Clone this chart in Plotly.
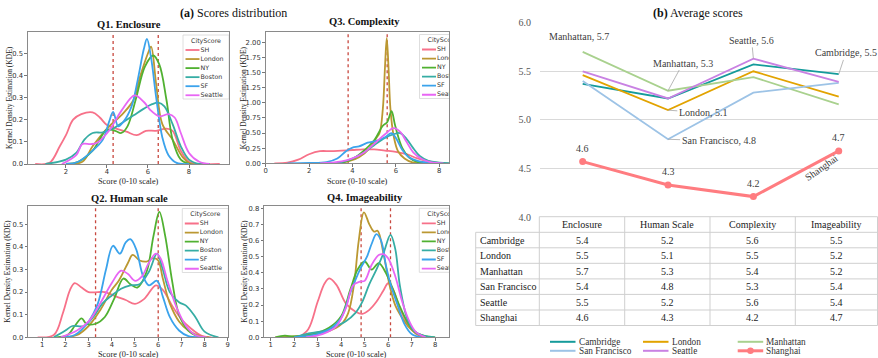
import plotly.graph_objects as go

W, H = 878, 358


def fx(p):
    return p / W


def fy(p):
    return 1 - p / H


# ---------------- KDE data ----------------
KDE_CITIES = ["SH", "London", "NY", "Boston", "SF", "Seattle"]
KDE_COLORS = ['#f77189', '#bb9832', '#50b131', '#36ada4', '#3ba3ec', '#e866f4']

# Q1 Enclosure
Q1_SH_X = [0.5, 1.2, 1.7, 2.0, 2.35, 2.75, 3.3, 3.65, 4.0, 4.45, 4.95, 5.45, 5.9, 6.4, 6.9, 7.2, 7.6, 8.0, 8.5, 9.5]
Q1_SH_Y = [0, 0.005, 0.08, 0.13, 0.2, 0.225, 0.233, 0.21, 0.176, 0.16, 0.146, 0.13, 0.15, 0.15, 0.16, 0.15, 0.06, 0.01, 0, 0]
Q1_LON_X = [2.0, 2.8, 3.3, 4.0, 4.8, 5.3, 5.6, 6.0, 6.15, 6.4, 6.7, 7.2, 7.7, 8.1, 9.0]
Q1_LON_Y = [0, 0.01, 0.08, 0.16, 0.23, 0.29, 0.39, 0.50, 0.53, 0.36, 0.18, 0.11, 0.03, 0, 0]
Q1_NY_X = [2.0, 2.6, 3.3, 4.0, 4.4, 4.7, 5.0, 5.4, 5.85, 6.25, 6.55, 6.9, 7.2, 7.6, 8.0, 9.0]
Q1_NY_Y = [0, 0.01, 0.06, 0.155, 0.15, 0.14, 0.17, 0.29, 0.44, 0.49, 0.45, 0.29, 0.11, 0.02, 0, 0]
Q1_BOS_X = [1.0, 2.0, 2.5, 2.9, 3.3, 3.8, 4.3, 4.8, 5.3, 5.8, 6.2, 6.5, 6.8, 7.2, 7.6, 8.0, 8.5, 9.0]
Q1_BOS_Y = [0, 0.02, 0.05, 0.11, 0.14, 0.143, 0.16, 0.19, 0.22, 0.25, 0.27, 0.277, 0.26, 0.18, 0.08, 0.02, 0, 0]
Q1_SF_X = [2.0, 2.6, 3.3, 3.8, 4.1, 4.3, 4.55, 4.8, 5.2, 5.5, 5.8, 5.95, 6.15, 6.4, 6.7, 7.0, 7.4, 8.0]
Q1_SF_Y = [0, 0.01, 0.06, 0.11, 0.19, 0.235, 0.17, 0.19, 0.26, 0.38, 0.52, 0.565, 0.48, 0.30, 0.12, 0.04, 0.005, 0]
Q1_SEA_X = [1.8, 2.5, 2.8, 3.2, 3.5, 4.1, 4.7, 5.35, 5.8, 6.1, 6.55, 7.0, 7.3, 7.6, 8.0, 8.5, 9.0]
Q1_SEA_Y = [0, 0.04, 0.09, 0.09, 0.095, 0.15, 0.24, 0.31, 0.28, 0.245, 0.215, 0.225, 0.21, 0.14, 0.05, 0.01, 0]
Q1_VLINES = [4.3, 6.5]

# Q3 Complexity
Q3_SH_X = [0.4, 1.0, 1.5, 2.0, 2.5, 3.0, 3.5, 4.0, 4.5, 5.0, 5.5, 6.0, 6.5, 7.0, 7.5, 8.0, 8.5]
Q3_SH_Y = [0, 0.01, 0.06, 0.15, 0.2, 0.2, 0.21, 0.22, 0.23, 0.23, 0.21, 0.19, 0.15, 0.08, 0.03, 0.005, 0]
Q3_LON_X = [3.0, 3.8, 4.3, 4.8, 5.1, 5.25, 5.4, 5.5, 5.58, 5.66, 5.75, 5.9, 6.1, 6.4, 6.8, 7.5]
Q3_LON_Y = [0, 0.03, 0.1, 0.25, 0.42, 0.5, 0.9, 1.6, 2.07, 1.6, 0.9, 0.45, 0.2, 0.08, 0.01, 0]
Q3_NY_X = [3.0, 3.6, 4.0, 4.5, 5.0, 5.4, 5.6, 5.8, 5.95, 6.1, 6.3, 6.6, 7.0, 7.5]
Q3_NY_Y = [0, 0.02, 0.07, 0.2, 0.38, 0.62, 0.68, 0.86, 0.65, 0.45, 0.25, 0.1, 0.02, 0]
Q3_BOS_X = [3.0, 3.5, 4.0, 4.5, 5.0, 5.5, 5.9, 6.2, 6.5, 6.8, 7.1, 7.5, 8.0, 8.5]
Q3_BOS_Y = [0, 0.02, 0.08, 0.17, 0.3, 0.42, 0.48, 0.5, 0.4, 0.25, 0.12, 0.04, 0.01, 0]
Q3_SF_X = [1.0, 2.0, 2.8, 3.3, 3.7, 4.0, 4.3, 4.7, 5.1, 5.5, 5.8, 6.0, 6.3, 6.6, 7.0, 7.5, 8.0]
Q3_SF_Y = [0, 0.005, 0.02, 0.08, 0.2, 0.26, 0.28, 0.34, 0.37, 0.43, 0.5, 0.42, 0.22, 0.1, 0.04, 0.01, 0]
Q3_SEA_X = [2.5, 3.0, 3.5, 4.0, 4.5, 5.0, 5.5, 5.9, 6.2, 6.5, 6.8, 7.2, 7.6, 8.2]
Q3_SEA_Y = [0, 0.01, 0.03, 0.08, 0.17, 0.32, 0.48, 0.58, 0.52, 0.35, 0.18, 0.07, 0.02, 0]
Q3_VLINES = [3.8, 5.6]

# Q2 Human scale
Q2_SH_X = [0.8, 1.5, 1.9, 2.2, 2.4, 2.7, 3.0, 3.4, 3.7, 4.2, 4.6, 5.0, 5.4, 5.9, 6.2, 6.6, 7.0, 7.4, 7.9, 8.3]
Q2_SH_Y = [0, 0.01, 0.11, 0.21, 0.24, 0.22, 0.2, 0.2, 0.2, 0.18, 0.165, 0.148, 0.17, 0.23, 0.21, 0.14, 0.08, 0.04, 0.005, 0]
Q2_LON_X = [2.0, 2.5, 3.0, 3.5, 4.0, 4.3, 4.7, 4.9, 5.2, 5.5, 5.8, 6.0, 6.2, 6.5, 6.9, 7.3, 7.8, 8.2]
Q2_LON_Y = [0, 0.01, 0.05, 0.12, 0.21, 0.25, 0.33, 0.365, 0.34, 0.335, 0.35, 0.34, 0.26, 0.15, 0.07, 0.03, 0.005, 0]
Q2_NY_X = [1.6, 2.1, 2.4, 2.7, 2.9, 3.3, 3.7, 4.1, 4.5, 4.8, 5.1, 5.5, 5.8, 6.05, 6.3, 6.6, 6.9, 7.3, 7.8]
Q2_NY_Y = [0, 0.01, 0.05, 0.084, 0.06, 0.06, 0.09, 0.17, 0.26, 0.235, 0.22, 0.29, 0.45, 0.555, 0.45, 0.25, 0.1, 0.03, 0]
Q2_BOS_X = [1.5, 2.0, 2.3, 2.8, 3.2, 3.6, 4.0, 4.4, 4.8, 5.2, 5.6, 5.95, 6.2, 6.5, 6.9, 7.2, 7.6, 8.0, 8.6]
Q2_BOS_Y = [0, 0.03, 0.05, 0.05, 0.09, 0.15, 0.185, 0.215, 0.23, 0.235, 0.29, 0.37, 0.3, 0.2, 0.155, 0.14, 0.09, 0.025, 0]
Q2_SF_X = [1.8, 2.4, 3.0, 3.4, 3.75, 4.05, 4.35, 4.6, 4.8, 5.05, 5.35, 5.6, 5.95, 6.2, 6.5, 6.9, 7.3, 7.8]
Q2_SF_Y = [0, 0.01, 0.07, 0.15, 0.3, 0.405, 0.37, 0.42, 0.434, 0.39, 0.27, 0.23, 0.25, 0.18, 0.09, 0.03, 0.005, 0]
Q2_SEA_X = [1.8, 2.5, 3.0, 3.5, 4.0, 4.4, 4.7, 5.0, 5.3, 5.6, 5.9, 6.1, 6.4, 6.8, 7.2, 7.6, 8.1]
Q2_SEA_Y = [0, 0.03, 0.07, 0.15, 0.24, 0.295, 0.28, 0.25, 0.27, 0.33, 0.37, 0.35, 0.25, 0.13, 0.05, 0.01, 0]
Q2_VLINES = [3.3, 6.0]

# Q4 Imageability
Q4_SH_X = [2.2, 2.6, 3.0, 3.3, 3.5, 3.8, 4.2, 4.6, 4.9, 5.2, 5.5, 5.8, 6.0, 6.2, 6.5, 6.8, 7.2, 7.6]
Q4_SH_Y = [0, 0.05, 0.22, 0.335, 0.365, 0.325, 0.21, 0.16, 0.145, 0.17, 0.22, 0.29, 0.335, 0.3, 0.18, 0.09, 0.02, 0]
Q4_LON_X = [1.2, 2.0, 2.8, 3.5, 4.0, 4.3, 4.55, 4.75, 4.97, 5.2, 5.4, 5.55, 5.8, 6.05, 6.3, 6.6, 6.9, 7.3, 7.8]
Q4_LON_Y = [0, 0.005, 0.02, 0.04, 0.08, 0.15, 0.33, 0.6, 0.775, 0.7, 0.655, 0.66, 0.52, 0.33, 0.2, 0.12, 0.06, 0.015, 0]
Q4_NY_X = [1.2, 1.6, 2.0, 2.8, 3.5, 4.0, 4.4, 4.7, 5.0, 5.3, 5.6, 5.9, 6.2, 6.5, 6.8, 7.1, 7.5, 8.0]
Q4_NY_Y = [0, 0.01, 0.005, 0.02, 0.06, 0.13, 0.3, 0.42, 0.47, 0.42, 0.46, 0.4, 0.3, 0.19, 0.1, 0.04, 0.01, 0]
Q4_BOS_X = [2.0, 2.5, 2.9, 3.3, 3.8, 4.2, 4.6, 4.9, 5.2, 5.5, 5.8, 6.1, 6.3, 6.5, 6.8, 7.1, 7.5, 8.0]
Q4_BOS_Y = [0, 0.02, 0.03, 0.04, 0.07, 0.1, 0.15, 0.22, 0.33, 0.42, 0.52, 0.635, 0.55, 0.32, 0.12, 0.04, 0.01, 0]
Q4_SF_X = [2.0, 3.0, 3.5, 4.0, 4.4, 4.8, 5.1, 5.3, 5.5, 5.7, 5.9, 6.1, 6.4, 6.7, 7.0, 7.4]
Q4_SF_Y = [0, 0.02, 0.05, 0.12, 0.28, 0.42, 0.5, 0.58, 0.64, 0.6, 0.45, 0.33, 0.2, 0.08, 0.02, 0]
Q4_SEA_X = [2.5, 3.2, 3.8, 4.2, 4.5, 4.8, 5.0, 5.3, 5.6, 5.8, 6.0, 6.3, 6.6, 6.9, 7.2, 7.6]
Q4_SEA_Y = [0, 0.02, 0.07, 0.18, 0.32, 0.345, 0.35, 0.45, 0.51, 0.515, 0.49, 0.38, 0.22, 0.1, 0.03, 0]
Q4_VLINES = [4.85, 6.1]

# ---------------- Average scores data ----------------
CATEGORIES = ["Enclosure", "Human Scale", "Complexity", "Imageability"]
AVG_CITIES = ["Cambridge", "London", "Manhattan", "San Francisco", "Seattle", "Shanghai"]
CAMBRIDGE = [5.37, 5.22, 5.57, 5.47]
LONDON = [5.46, 5.10, 5.50, 5.24]
MANHATTAN = [5.70, 5.30, 5.44, 5.16]
SAN_FRANCISCO = [5.40, 4.80, 5.28, 5.38]
SEATTLE = [5.50, 5.22, 5.63, 5.39]
SHANGHAI = [4.57, 4.33, 4.21, 4.68]
AVG_COLORS = ['#159b9b', '#e2a300', '#a9d18e', '#9dc3e6', '#c982e3', '#ff7c80']

SERIF = "Liberation Serif, Times New Roman, serif"
SANS = "DejaVu Sans, sans-serif"

fig = go.Figure()
shapes = []
annotations = []


def ann(**kw):
    d = dict(showarrow=False, xanchor="center", yanchor="middle", xref="paper", yref="paper")
    d.update(kw)
    annotations.append(d)


panels = [
    dict(title="<b>Q1. Enclosure</b>", ax="", l=28, r=229, t=32, b=164, xr=[0.15, 9.95], yr=[0, 0.596],
         xt=[2, 4, 6, 8], ydt=0.1, yfmt='.1f', vl=Q1_VLINES, tx=129, ty=24, lg=(183, 35), ytx=9, xty=181,
         curves=[(Q1_SH_X, Q1_SH_Y), (Q1_LON_X, Q1_LON_Y), (Q1_NY_X, Q1_NY_Y),
                 (Q1_BOS_X, Q1_BOS_Y), (Q1_SF_X, Q1_SF_Y), (Q1_SEA_X, Q1_SEA_Y)]),
    dict(title="<b>Q3. Complexity</b>", ax="2", l=265.7, r=449, t=32, b=163.3, xr=[0, 8.45], yr=[0, 2.17],
         xt=[0, 2, 4, 6, 8], ydt=0.25, yfmt='.2f', vl=Q3_VLINES, tx=364.7, ty=22, lg=(419.5, 34.5), ytx=243.5,
         xty=181,
         curves=[(Q3_SH_X, Q3_SH_Y), (Q3_LON_X, Q3_LON_Y), (Q3_NY_X, Q3_NY_Y),
                 (Q3_BOS_X, Q3_BOS_Y), (Q3_SF_X, Q3_SF_Y), (Q3_SEA_X, Q3_SEA_Y)]),
    dict(title="<b>Q2. Human scale</b>", ax="3", l=28.3, r=228, t=206, b=337.3, xr=[0.4, 9.01], yr=[0, 0.581],
         xt=[1, 2, 3, 4, 5, 6, 7, 8, 9], ydt=0.1, yfmt='.1f', vl=Q2_VLINES, tx=129.3, ty=198.3,
         lg=(182.3, 208.5), ytx=8, xty=354.3,
         curves=[(Q2_SH_X, Q2_SH_Y), (Q2_LON_X, Q2_LON_Y), (Q2_NY_X, Q2_NY_Y),
                 (Q2_BOS_X, Q2_BOS_Y), (Q2_SF_X, Q2_SF_Y), (Q2_SEA_X, Q2_SEA_Y)]),
    dict(title="<b>Q4. Imageability</b>", ax="4", l=264.3, r=449, t=206, b=337.3, xr=[0.73, 8.59], yr=[0, 0.814],
         xt=[1, 2, 3, 4, 5, 6, 7, 8], ydt=0.1, yfmt='.1f', vl=Q4_VLINES, tx=364.5, ty=197.7, lg=(419.3, 208.3),
         ytx=245, xty=354.3,
         curves=[(Q4_SH_X, Q4_SH_Y), (Q4_LON_X, Q4_LON_Y), (Q4_NY_X, Q4_NY_Y),
                 (Q4_BOS_X, Q4_BOS_Y), (Q4_SF_X, Q4_SF_Y), (Q4_SEA_X, Q4_SEA_Y)]),
]

layout_axes = {}
tick_common = dict(ticks="outside", ticklen=2.5, tickwidth=0.8, tickcolor="#555", showline=True, mirror=True,
                   linecolor="#8a8a8a", linewidth=1.1, showgrid=False, zeroline=False, automargin=False,
                   tickfont=dict(family=SANS, size=6.8, color="#333"))
for p in panels:
    a = p["ax"]
    xname, yname = "x" + a, "y" + a
    for (cx, cy), name, col in zip(p["curves"], KDE_CITIES, KDE_COLORS):
        fig.add_trace(go.Scatter(x=cx, y=cy, mode="lines", name=name, showlegend=False,
                                 line=dict(color=col, width=1.8, shape="spline", smoothing=1.0),
                                 xaxis=xname, yaxis=yname, hoverinfo="skip"))
    layout_axes["xaxis" + a] = dict(domain=[fx(p["l"]), fx(p["r"])], range=p["xr"], anchor=yname,
                                    tickvals=p["xt"], ticklabelstandoff=-2, **tick_common)
    layout_axes["yaxis" + a] = dict(domain=[fy(p["b"]), fy(p["t"])], range=p["yr"], anchor=xname,
                                    dtick=p["ydt"], tick0=0, tickformat=p["yfmt"], **tick_common)
    for v in p["vl"]:
        shapes.append(dict(type="line", xref=xname, yref=yname + " domain", x0=v, x1=v, y0=0, y1=1,
                           line=dict(color="#c8483f", width=1.3, dash="dot"), layer="below"))
    ann(text=p["title"], x=fx(p["tx"]), y=fy(p["ty"]), font=dict(family=SERIF, size=10.5, color="#111"))
    ann(text="Kernel Density Estimation (KDE)", x=fx(p["ytx"]), y=fy((p["t"] + p["b"]) / 2), textangle=-90,
        font=dict(family=SERIF, size=7.5, color="#222"))
    ann(text="Score (0-10 scale)", x=fx((p["l"] + p["r"]) / 2), y=fy(p["xty"]),
        font=dict(family=SERIF, size=8.3, color="#222"))

# legends of the KDE panels: drawn on hidden overlay subplots (pixel units) so they clip at the frame
for k, p in enumerate(panels):
    n = str(6 + k)
    lxa, lya = "x" + n, "y" + n
    layout_axes["xaxis" + n] = dict(domain=[fx(p["l"]), fx(p["r"])], range=[p["l"], p["r"]], anchor=lya,
                                    visible=False, automargin=False)
    layout_axes["yaxis" + n] = dict(domain=[fy(p["b"]), fy(p["t"])], range=[p["b"], p["t"]], anchor=lxa,
                                    visible=False, automargin=False)
    lx, ly = p["lg"]
    shapes.append(dict(type="rect", xref=lxa, yref=lya, x0=lx, x1=lx + 46, y0=ly, y1=ly + 64,
                       line=dict(color="#d5d5d5", width=0.8), fillcolor="rgba(255,255,255,0.9)", layer="below"))
    for i, (name, col) in enumerate(zip(KDE_CITIES, KDE_COLORS)):
        yy = ly + 15 + i * 9.05
        fig.add_trace(go.Scatter(x=[lx + 2.5, lx + 16.5], y=[yy, yy], mode="lines", showlegend=False,
                                 line=dict(color=col, width=1.8), xaxis=lxa, yaxis=lya, hoverinfo="skip"))
    fig.add_trace(go.Scatter(x=[lx + 23] + [lx + 17.5] * 6, y=[ly + 6.2] + [ly + 15 + i * 9.05 for i in range(6)],
                             text=["CityScore"] + KDE_CITIES, mode="text",
                             textposition=["middle center"] + ["middle right"] * 6,
                             textfont=dict(family=SANS, size=6.3, color="#333"), cliponaxis=True,
                             showlegend=False, xaxis=lxa, yaxis=lya, hoverinfo="skip"))

ann(text="<b>(a)</b> Scores distribution", x=fx(233), y=fy(13), font=dict(family=SERIF, size=12, color="#111"))

# ---------------- Average scores panel ----------------
avg_series = [CAMBRIDGE, LONDON, MANHATTAN, SAN_FRANCISCO, SEATTLE, SHANGHAI]
for name, vals, col in zip(AVG_CITIES, avg_series, AVG_COLORS):
    if name == "Shanghai":
        fig.add_trace(go.Scatter(x=CATEGORIES, y=vals, mode="lines+markers", name=name, showlegend=False,
                                 line=dict(color=col, width=3), marker=dict(size=7, color=col),
                                 xaxis="x5", yaxis="y5"))
    else:
        fig.add_trace(go.Scatter(x=CATEGORIES, y=vals, mode="lines", name=name, showlegend=False,
                                 line=dict(color=col, width=1.8), xaxis="x5", yaxis="y5"))

layout_axes["xaxis5"] = dict(domain=[fx(540), 1.0], range=[-0.5, 3.46], anchor="y5", type="category",
                             showticklabels=False, showgrid=False, zeroline=False, showline=False,
                             automargin=False)
layout_axes["yaxis5"] = dict(domain=[fy(217), fy(22.7)], range=[4.0, 6.0], anchor="x5", dtick=0.5,
                             tickformat=".1f", showgrid=True, gridcolor="#d9d9d9", gridwidth=1,
                             zeroline=False, showline=False, ticklabelstandoff=8, automargin=False,
                             tickfont=dict(family=SERIF, size=10, color="#555"))

lab_font = dict(family=SERIF, size=10, color="#404040")


def city_val(city, cat_idx):
    return avg_series[AVG_CITIES.index(city)][cat_idx]


# series labels (city, category index, ax offset, ay offset, show leader)
LABELS = [("Manhattan", 0, -4, -15, False), ("Manhattan", 1, 15, -27.7, True),
          ("Seattle", 2, -1.7, -18.3, True), ("Cambridge", 3, 7, -21.3, True),
          ("London", 1, 35.3, 2.7, True), ("San Francisco", 1, 50.6, 1.7, True)]
for city, ci, axo, ayo, show in LABELS:
    v = city_val(city, ci)
    ann(x=CATEGORIES[ci], y=v, xref="x5", yref="y5", text=f"{city}, {v:.1f}", showarrow=True, arrowhead=0,
        arrowwidth=0.8, arrowcolor="#a6a6a6" if show else "rgba(0,0,0,0)", standoff=0, ax=axo, ay=ayo,
        font=lab_font)

for ci, v in enumerate(SHANGHAI):
    ann(x=CATEGORIES[ci], y=v, xref="x5", yref="y5", text=f"{v:.1f}", yshift=13, font=lab_font)
ann(x=fx(821.7), y=fy(168), text="Shanghai", textangle=-35, font=lab_font)

ann(text="<b>(b)</b> Average scores", x=fx(698), y=fy(13.3), font=dict(family=SERIF, size=12, color="#111"))

# table
col_edges = [475.7, 539.3, 624.7, 710.0, 795.3, 877.5]
row_edges = [216.7, 232.3, 247.8, 263.3, 278.9, 294.4, 310.0, 325.5]
grid = dict(color="#cfcfcf", width=1)
for j, yy in enumerate(row_edges):
    x0 = col_edges[1] if j == 0 else col_edges[0]
    shapes.append(dict(type="line", xref="paper", yref="paper", x0=fx(x0), x1=fx(col_edges[-1]),
                       y0=fy(yy), y1=fy(yy), line=grid))
for i, xx in enumerate(col_edges):
    y0 = row_edges[1] if i == 0 else row_edges[0]
    shapes.append(dict(type="line", xref="paper", yref="paper", x0=fx(xx), x1=fx(xx),
                       y0=fy(y0), y1=fy(row_edges[-1]), line=grid))
tab_font = dict(family=SERIF, size=10, color="#222")
for ci, cat in enumerate(CATEGORIES):
    cx = (col_edges[ci + 1] + col_edges[ci + 2]) / 2
    ann(text=cat, x=fx(cx), y=fy((row_edges[0] + row_edges[1]) / 2), font=tab_font)
for ri, (city, vals) in enumerate(zip(AVG_CITIES, avg_series)):
    cy = (row_edges[ri + 1] + row_edges[ri + 2]) / 2
    ann(text=city, x=fx(col_edges[0] + 2.5), y=fy(cy), xanchor="left", font=tab_font)
    for ci, v in enumerate(vals):
        cx = (col_edges[ci + 1] + col_edges[ci + 2]) / 2
        ann(text=f"{v:.1f}", x=fx(cx), y=fy(cy), font=tab_font)

# legend for (b), drawn manually
leg_cols = [550, 643, 737.7]
leg_rows = [341.8, 350.8]
leg_order = ["Cambridge", "London", "Manhattan", "San Francisco", "Seattle", "Shanghai"]
for k, name in enumerate(leg_order):
    col = AVG_COLORS[AVG_CITIES.index(name)]
    x0 = leg_cols[k % 3]
    yy = leg_rows[k // 3]
    wdt = 3 if name == "Shanghai" else 2
    shapes.append(dict(type="line", xref="paper", yref="paper", x0=fx(x0), x1=fx(x0 + 25.5), y0=fy(yy),
                       y1=fy(yy), line=dict(color=col, width=wdt)))
    if name == "Shanghai":
        shapes.append(dict(type="circle", xref="paper", yref="paper", x0=fx(x0 + 9.5), x1=fx(x0 + 16),
                           y0=fy(yy + 3.25), y1=fy(yy - 3.25), fillcolor=col, line=dict(color=col, width=0)))
    ann(text=name, x=fx(x0 + 26.5), y=fy(yy), xanchor="left", font=dict(family=SERIF, size=9.3, color="#333"))

fig.update_layout(width=W, height=H, margin=dict(l=0, r=0, t=0, b=0, pad=0), paper_bgcolor="white",
                  plot_bgcolor="rgba(0,0,0,0)", showlegend=False, shapes=shapes, annotations=annotations,
                  hovermode=False, **layout_axes)

fig.write_html("out.html", config={"displayModeBar": False, "staticPlot": True},
               post_script="document.body.style.margin='0px';document.body.style.overflow='hidden';")
